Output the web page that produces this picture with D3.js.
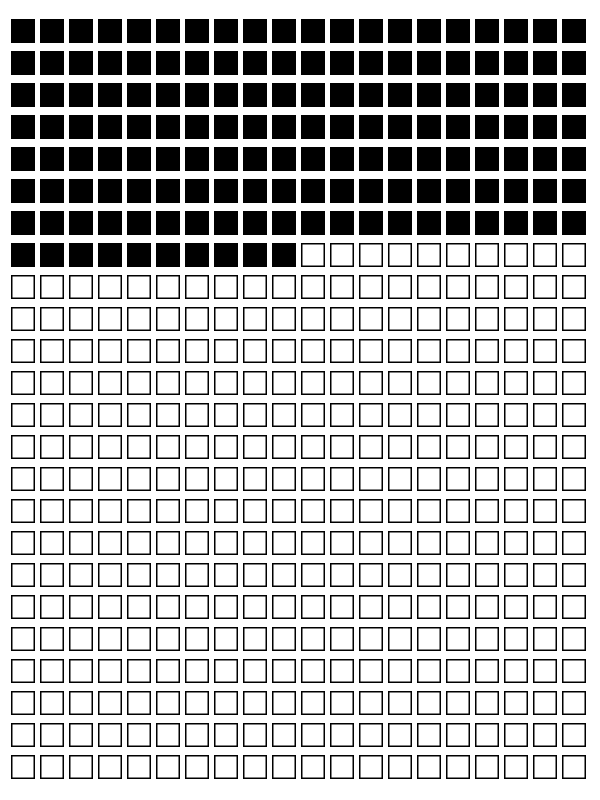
<!DOCTYPE html>
<html>
<head>
<meta charset="utf-8">
<script src="https://cdn.jsdelivr.net/npm/d3@7"></script>
<style>
  html, body { margin: 0; padding: 0; background: #fff; }
  svg { display: block; }
</style>
</head>
<body>
<div id="chart"></div>
<script>
// Data
const categories = ["filled", "empty"];
const values = [150, 330];
const nCols = 20;
const nRows = 24;

const width = 600, height = 800;
const cell = 24;
const svg = d3.select("#chart").append("svg")
  .attr("width", width).attr("height", height);

const total = d3.sum(values);
const cells = d3.range(total).map(i => ({
  i,
  col: i % nCols,
  row: Math.floor(i / nCols),
  cat: i < values[0] ? categories[0] : categories[1]
}));

const x = d3.scaleLinear().domain([0, nCols - 1]).range([11, 562]);
const y = d3.scaleLinear().domain([0, nRows - 1]).range([19, 755]);
const fill = d3.scaleOrdinal().domain(categories).range(["#000", "#fff"]);

svg.selectAll("rect.cell").data(cells).join("rect")
  .attr("class", "cell")
  .attr("x", d => d.cat === "filled" ? x(d.col) : x(d.col) + 0.75)
  .attr("y", d => d.cat === "filled" ? y(d.row) : y(d.row) + 0.75)
  .attr("width", d => d.cat === "filled" ? cell : cell - 1.5)
  .attr("height", d => d.cat === "filled" ? cell : cell - 1.5)
  .attr("fill", d => fill(d.cat))
  .attr("stroke", d => d.cat === "filled" ? "none" : "#000")
  .attr("stroke-width", 1.5);
</script>
</body>
</html>
